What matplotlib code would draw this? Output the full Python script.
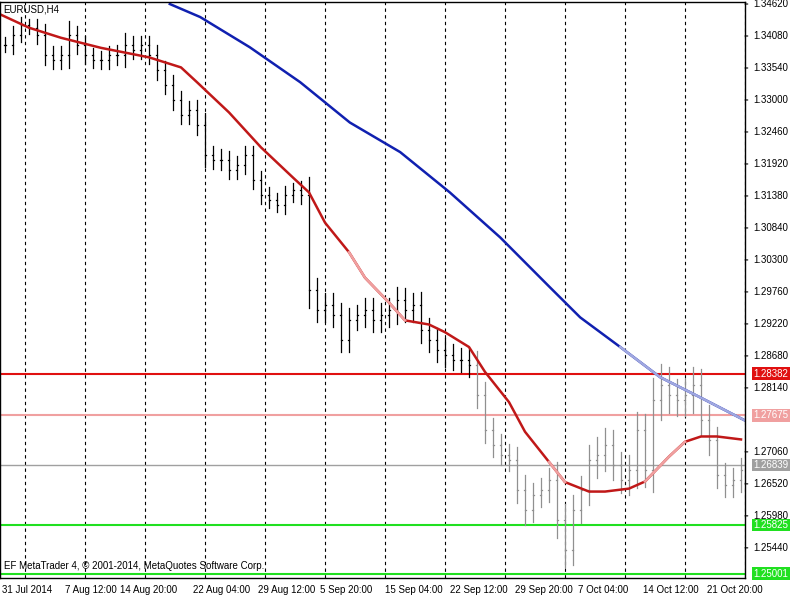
import matplotlib.pyplot as plt
import numpy as np

plt.rcParams.update({'font.family': ['Liberation Sans', 'DejaVu Sans'], 'font.size': 7})

# one bar every ~4 H4 candles
closes = [1.3393, 1.3410, 1.3427, 1.3422, 1.3410, 1.3376, 1.3367, 1.3376, 1.3410, 1.3393,
          1.3376, 1.3367, 1.3367, 1.3376, 1.3376, 1.3393, 1.3384, 1.3393, 1.3376, 1.3351,
          1.3325, 1.3300, 1.3275, 1.3283, 1.3258, 1.3207, 1.3199, 1.3199, 1.3182, 1.3190,
          1.3207, 1.3165, 1.3140, 1.3131, 1.3123, 1.3140, 1.3148, 1.3140, 1.2979, 1.2945,
          1.2954, 1.2937, 1.2895, 1.2929, 1.2937, 1.2945, 1.2929, 1.2937, 1.2945, 1.2962,
          1.2945, 1.2954, 1.2912, 1.2895, 1.2878, 1.2870, 1.2861, 1.2861, 1.2853, 1.2802,
          1.2743, 1.2718, 1.2701, 1.2692, 1.2642, 1.2608, 1.2633, 1.2642, 1.2659, 1.2591,
          1.2540, 1.2608, 1.2642, 1.2692, 1.2701, 1.2718, 1.2684, 1.2659, 1.2675, 1.2743,
          1.2675, 1.2794, 1.2819, 1.2802, 1.2794, 1.2802, 1.2819, 1.2760, 1.2726, 1.2667,
          1.2650, 1.2659, 1.2675]
ranges = [25, 30, 25, 20, 30, 35, 30, 30, 45, 30,
          30, 25, 30, 30, 35, 40, 30, 30, 30, 35,
          30, 35, 30, 30, 35, 40, 30, 35, 30, 30,
          30, 30, 30, 25, 25, 30, 25, 30, 60, 40,
          40, 40, 40, 40, 35, 40, 40, 40, 40, 45,
          40, 40, 45, 40, 40, 40, 35, 40, 40, 45,
          45, 40, 35, 35, 45, 50, 40, 40, 40, 60,
          55, 50, 45, 50, 60, 55, 50, 45, 50, 60,
          55, 75, 70, 60, 55, 55, 60, 55, 50, 45,
          40, 40, 40]

ma_fast_idx = [-1, 3, 7, 12, 18, 22, 24, 28, 32, 36, 38, 40, 43, 45, 48, 50, 53, 55, 58, 60,
               63, 65, 68, 70, 73, 75, 78, 80, 83, 85, 87, 89, 92]
ma_fast = [1.3447, 1.3422, 1.3405, 1.3388, 1.3372, 1.3355, 1.3330, 1.3279, 1.3220, 1.3169,
           1.3144, 1.3093, 1.3043, 1.3000, 1.2958, 1.2928, 1.2921, 1.2908, 1.2883, 1.2841,
           1.2790, 1.2740, 1.2689, 1.2655, 1.2639, 1.2639, 1.2644, 1.2656, 1.2698, 1.2723,
           1.2732, 1.2732, 1.2727]
fast_light = [(43, 51), (68, 71), (80, 85)]

ma_slow_idx = [20.6, 24.4, 30.6, 36.9, 43.1, 49.4, 55.6, 61.9, 68.1, 71.9, 76.9, 81.9, 86.9, 92.5]
ma_slow = [1.3462, 1.3440, 1.3389, 1.3330, 1.3262, 1.3212, 1.3144, 1.3068, 1.2984, 1.2933,
           1.2883, 1.2832, 1.2798, 1.2759]
slow_light_from = 81

levels = [1.28382, 1.27675, 1.26839, 1.25825, 1.25001]
level_colors = ['#e01010', '#f0a0a0', '#a0a0a0', '#20e020', '#20e020']

tick_idx = [-0.4, 7.5, 14.4, 23.5, 31.6, 39.4, 47.5, 55.6, 63.8, 71.6, 79.8, 87.8]
tick_labels = ['31 Jul 2014', '7 Aug 12:00', '14 Aug 20:00', '22 Aug 04:00', '29 Aug 12:00',
               '5 Sep 20:00', '15 Sep 04:00', '22 Sep 12:00', '29 Sep 20:00', '7 Oct 04:00',
               '14 Oct 12:00', '21 Oct 20:00']
price_ticks = [1.34620, 1.34080, 1.33540, 1.33000, 1.32460, 1.31920, 1.31380, 1.30840,
               1.30300, 1.29760, 1.29220, 1.28680, 1.28140, 1.27060, 1.26520, 1.25980, 1.25440]

fig = plt.figure(figsize=(8, 6), dpi=100)
ax = fig.add_axes([0.0, 1 - 578 / 600, 745 / 800, 576 / 600])
ax.set_xlim(-0.625, 92.5)
ax.set_ylim(1.24931, 1.34654)

for g in np.arange(2.5, 93, 7.5):
    ax.axvline(g, color='black', linestyle=(0, (3, 3)), linewidth=0.8)

for lv, c in zip(levels, level_colors):
    ax.axhline(lv, color=c, linewidth=1.5 if c != '#a0a0a0' else 1.0)

for i, (c, r) in enumerate(zip(closes, ranges)):
    col = 'black' if i < 59 else '#909090'
    o = closes[i - 1] if i > 0 else c
    hi = max(o, c) + r * 0.00005
    lo = min(o, c) - r * 0.00005
    ax.plot([i, i], [lo, hi], color=col, linewidth=0.9)
    ax.plot([i - 0.15, i], [o, o], color=col, linewidth=0.9)
    ax.plot([i, i + 0.15], [c, c], color=col, linewidth=0.9)

ax.plot(ma_fast_idx, ma_fast, color='#c01818', linewidth=1.8)
for a, b in fast_light:
    sel = [k for k, v in enumerate(ma_fast_idx) if a <= v <= b]
    ax.plot([ma_fast_idx[k] for k in sel], [ma_fast[k] for k in sel], color='#f0a0a0', linewidth=1.8)

ax.plot(ma_slow_idx, ma_slow, color='#1020b0', linewidth=1.8)
sel = [k for k, v in enumerate(ma_slow_idx) if v >= slow_light_from - 5]
ax.plot([ma_slow_idx[k] for k in sel], [ma_slow[k] for k in sel], color='#a0a8e0', linewidth=1.8)

ax.set_xticks([])
ax.set_yticks([])
for s in ['top', 'bottom', 'left', 'right']:
    ax.spines[s].set_linewidth(1.0)

for t, lab in zip(tick_idx, tick_labels):
    ax.annotate(lab, (t, 0), xycoords=('data', 'axes fraction'), xytext=(0, -5),
                textcoords='offset points', ha='left', va='top', fontsize=7)

for p in price_ticks:
    ax.annotate(f'{p:.5f}', (1, p), xycoords=('axes fraction', 'data'), xytext=(6, 0),
                textcoords='offset points', ha='left', va='center', fontsize=7)
    ax.annotate('', (1, p), xycoords=('axes fraction', 'data'), xytext=(4, 0),
                textcoords='offset points', arrowprops=dict(arrowstyle='-', linewidth=0.8))

for lv, c in zip(levels, level_colors):
    ax.annotate(f'{lv:.5f}', (1, lv), xycoords=('axes fraction', 'data'), xytext=(6, 0),
                textcoords='offset points', ha='left', va='center', fontsize=7, color='white',
                bbox=dict(boxstyle='square,pad=0.15', facecolor=c, edgecolor='none'))

ax.text(0.005, 0.995, 'EURUSD,H4', transform=ax.transAxes, ha='left', va='top', fontsize=7)
ax.text(0.005, 0.012, 'EF MetaTrader 4, © 2001-2014, MetaQuotes Software Corp.',
        transform=ax.transAxes, ha='left', va='bottom', fontsize=7)

fig.savefig('out.png', dpi=100)
